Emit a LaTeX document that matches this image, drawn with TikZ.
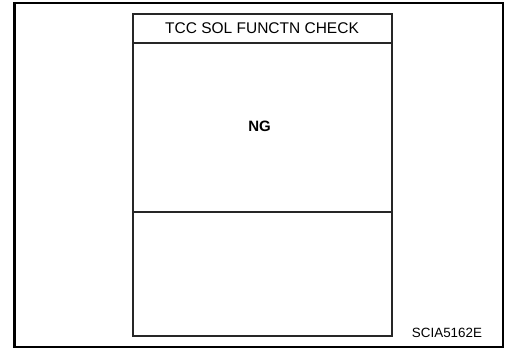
\documentclass[tikz,border=0pt]{standalone}
\usepackage{fontspec}
\setmainfont{Liberation Sans}
\tikzset{
  frame/.style={line width=2.4pt},
  panel/.style={line width=2pt,draw=black!85},
  rowline/.style={line width=1.6pt,draw=black!85},
  txt/.style={inner sep=0pt,font=\fontsize{15.5}{18}\selectfont}
}
\begin{document}
\begin{tikzpicture}[x=1pt,y=-1pt]
        \useasboundingbox (0,0) rectangle (506,348);
        %cornice
        \draw[frame](14.5,3) rectangle (503,347);
        %schermo
        \draw[panel](133,14) rectangle (392,335.7);
        \draw[rowline](133,42.7) -- (392,42.7);
        \draw[rowline](133,212) -- (392,212);
        %testi
        \node[txt] (title) at (262,28.5) {TCC SOL FUNCTN CHECK};
        \node[txt,font=\fontsize{15}{18}\selectfont\bfseries] (ng) at (259.5,126) {NG};
        \node[txt,font=\fontsize{13.4}{16}\selectfont] (code) at (447,333) {SCIA5162E};
    \end{tikzpicture}
\end{document}
